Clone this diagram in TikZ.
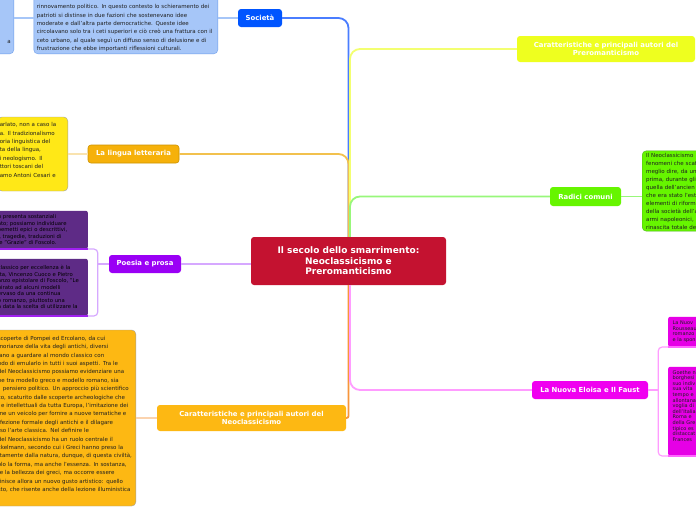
\documentclass[tikz,border=0pt]{standalone}
\usepackage{fontspec}
\setmainfont{DejaVu Sans}
\usepackage{xcolor}
\usetikzlibrary{positioning}

\definecolor{rootred}{HTML}{C41230}
\definecolor{socblue}{HTML}{0055FF}
\definecolor{soclight}{HTML}{A6C6F8}
\definecolor{socedge}{HTML}{6D9EEB}
\definecolor{socline}{HTML}{4A7DFF}
\definecolor{lingorange}{HTML}{F6B10A}
\definecolor{lingedge}{HTML}{CC9200}
\definecolor{lingyellow}{HTML}{FFE817}
\definecolor{lingline}{HTML}{F2C14E}
\definecolor{poeviolet}{HTML}{9A00F5}
\definecolor{poedark}{HTML}{5E2B86}
\definecolor{poebar}{HTML}{A020F0}
\definecolor{poeline}{HTML}{D6A8FF}
\definecolor{neoorange}{HTML}{FDB813}
\definecolor{neoline}{HTML}{F7963A}
\definecolor{neolight}{HTML}{FBD3AE}
\definecolor{preyellow}{HTML}{EEFF1F}
\definecolor{preline}{HTML}{F3FF70}
\definecolor{radgreen}{HTML}{66F500}
\definecolor{radedge}{HTML}{4DB51F}
\definecolor{radline}{HTML}{98F77A}
\definecolor{elomag}{HTML}{F000F0}
\definecolor{elodark}{HTML}{E600E6}
\definecolor{elobar}{HTML}{FF66FF}
\definecolor{eloline}{HTML}{FF9CFF}
\definecolor{notegray}{HTML}{A0A0A0}
\definecolor{notetext}{HTML}{1F1F1F}

\newcommand{\rootfont}{\bfseries\fontsize{9}{10.5}\selectfont}
\newcommand{\lblfont}{\bfseries\fontsize{6.9}{8.7}\selectfont}
\newcommand{\notefont}{\fontsize{5.5}{8.4}\selectfont}
\newcommand{\tinynotefont}{\fontsize{5.3}{6.5}\selectfont}
\newcommand{\micronotefont}{\fontsize{5}{5.6}\selectfont}

\begin{document}
\begin{tikzpicture}[
    x=1pt, y=-1pt,
    root/.style={
        rectangle,
        rounded corners=3pt,
        fill=rootred,
        text=white,
        font=\rootfont,
        align=center,
        inner sep=0pt,
        minimum width=195pt,
        minimum height=48pt
    },
    branch/.style={
        rectangle,
        rounded corners=3pt,
        text=white,
        font=\lblfont,
        align=center,
        inner sep=0pt
    },
    notebox/.style={
        rectangle,
        rounded corners=4pt,
        font=\notefont,
        text=notetext,
        align=left,
        inner ysep=2pt,
        inner xsep=2pt
    },
    link/.style={line width=1.8pt, rounded corners=10pt},
    twig/.style={line width=1.2pt, rounded corners=4pt},
    bar/.style={line width=2.5pt}
]
    \useasboundingbox (0,0) rectangle (696,520);
    \fill[white] (0,0) rectangle (696,520);
    \clip (0,0) rectangle (696,520);

    % central topic
    \node[root] (root) at (348.5,261) {Il secolo dello smarrimento:\\Neoclassicismo e\\Preromanticismo};

    % main branches
    \node[branch, fill=socblue, minimum width=44pt, minimum height=18pt] (soc) at (260,18) {Società};
    \node[branch, fill=lingorange, draw=lingedge, line width=0.6pt, minimum width=91pt, minimum height=18pt] (ling) at (133.5,154) {La lingua letteraria};
    \node[branch, fill=poeviolet, minimum width=72pt, minimum height=18pt] (poe) at (145,264) {Poesia e prosa};
    \node[branch, fill=neoorange, minimum width=189pt, minimum height=26pt] (neo) at (251.5,418) {Caratteristiche e principali autori del\\Neoclassicismo};
    \node[branch, fill=preyellow, minimum width=178pt, minimum height=26pt] (pre) at (606,49) {Caratteristiche e principali autori del\\Preromanticismo};
    \node[branch, fill=radgreen, minimum width=71pt, minimum height=19pt] (rad) at (585.5,196.5) {Radici comuni};
    \node[branch, fill=elomag, minimum width=116pt, minimum height=18pt] (elo) at (590,390) {La Nuova Eloisa e Il Faust};

    % notes
    \node[notebox, fill=soclight, draw=socedge, anchor=south east, align=right, text width=20pt, inner xsep=3pt] (sfar) at (14,54)
        {\mbox{}\\\mbox{}\\\mbox{}\\\mbox{}\\\mbox{}\\\mbox{}\\a\\\mbox{}};
    \node[notebox, fill=soclight, draw=socedge, anchor=south east, text width=178pt, inner xsep=3pt] (sblk) at (218,54)
        {\mbox{}\\\mbox{}\\
         rinnovamento politico. In questo contesto lo schieramento dei\\
         patrioti si distinse in due fazioni che sostenevano idee\\
         moderate e dall'altra parte democratiche. Queste idee\\
         circolavano solo tra i ceti superiori e ciò creò una frattura con il\\
         ceto urbano, al quale seguì un diffuso senso di delusione e di\\
         frustrazione che ebbe importanti riflessioni culturali.};
    \node[notebox, fill=lingyellow, draw=notegray, anchor=east, text width=66pt, minimum height=74pt] (lnote) at (68,154)
        {arlato, non a caso la\\
         a. Il tradizionalismo\\
         oria linguistica del\\
         ta della lingua,\\
         i neologismo. Il\\
         ttori toscani del\\
         amo Antoni Cesari e\\\mbox{}};
    \node[notebox, font=\tinynotefont, text=black, fill=poedark, rounded corners=2pt, anchor=south east, text width=88pt, minimum height=38pt] (pA) at (88,249)
        {n presenta sostanziali\\
         ato; possiamo individuare\\
         oemetti epici o descrittivi,\\
         l, tragedie, traduzioni di\\
         le "Grazie" di Foscolo.};
    \node[notebox, font=\tinynotefont, text=black, fill=poedark, rounded corners=2pt, anchor=south east, text width=88pt, minimum height=57pt] (pB) at (88,316)
        {classico per eccellenza è la\\
         tta, Vincenzo Cuoco e Pietro\\
         anzo epistolare di Foscolo, "Le\\
         pirato ad alcuni modelli\\
         ervaso da una continua\\
         o romanzo, piuttosto una\\
         a data la scelta di utilizzare la};
    \node[notebox, fill=neoorange, draw=notegray, anchor=east, text width=136pt, minimum height=176pt] (nnote) at (136,418)
        {scoperte di Pompei ed Ercolano, da cui\\
         morianze della vita degli antichi, diversi\\
         iano a guardare al mondo classico con\\
         ndo di emularlo in tutti i suoi aspetti. Tra le\\
         del Neoclassicismo possiamo evidenziare una\\
         ne tra modello greco e modello romano, sia\\
         \hspace*{5pt}pensiero politico. Un approccio più scientifico\\
         co, scaturito dalle scoperte archeologiche che\\
         i e intellettuali da tutta Europa, l'imitazione dei\\
         me un veicolo per fornire a nuove tematiche e\\
         rfezione formale degli antichi e il dilagare\\
         rso l'arte classica. Nel definire le\\
         del Neoclassicismo ha un ruolo centrale il\\
         ckelmann, secondo cui i Greci hanno preso la\\
         ttamente dalla natura, dunque, di questa civiltà,\\
         olo la forma, ma anche l'essenza. In sostanza,\\
         re la bellezza dei greci, ma occorre essere\\
         finisce allora un nuovo gusto artistico: quello\\
         sto, che risente anche della lezione illuministica\\\mbox{}};
    \node[notebox, font=\fontsize{5.5}{8}\selectfont, fill=radgreen, draw=radedge, anchor=west, text width=80pt, inner xsep=4pt, minimum height=80pt] (rnote) at (642,191)
        {Il Neoclassicismo\\
         fenomeni che scat\\
         meglio dire, da un\\
         prima, durante gli\\
         quella dell'ancien\\
         che era stato l'esti\\
         elementi di riform\\
         della società dell'a\\
         armi napoleonici,\\
         rinascita totale de};
    \node[notebox, font=\micronotefont, fill=elodark, rounded corners=2pt, anchor=south west, text width=60pt, inner xsep=4.5pt, minimum height=30pt] (mC) at (668,347)
        {La Nuov\\Rousseau\\romanzo\\e la spon};
    \node[notebox, font=\micronotefont, fill=elodark, rounded corners=2pt, anchor=south west, text width=60pt, inner xsep=4.5pt, minimum height=89pt] (mD) at (668,456)
        {Goethe n\\borghesi\\suo indiv\\sua vita\\tempo e\\allontana\\voglia di\\dell'Italia\\Roma e\\della Gre\\tipico es\\distaccat\\Frances\\\mbox{}\\\mbox{}};

    % branch links
    \draw[link, socline] (root.north) |- (soc.east);
    \draw[link, lingline] (root.north) |- (ling.east);
    \draw[link, preline] ([xshift=1.5pt]root.north) |- (pre.west);
    \draw[link, radline] ([xshift=1.5pt]root.north) |- (rad.west);
    \draw[link, poeline] (root.west |- poe.east) -- (poe.east);
    \draw[link, neoline, rounded corners=2pt] (root.south) |- (neo.east);
    \draw[link, eloline] ([xshift=1.5pt]root.south) |- (elo.west);

    % note links
    \draw[twig, soclight] (soc.west) -- (soc.west -| sblk.east);
    \draw[twig, soclight] (soc.west -| sblk.west) -- (soc.west -| sfar.east);
    \draw[twig, lingline!45!white] (ling.west) -- (ling.west -| lnote.east);
    \coordinate[left=11pt of poe.west] (poefork);
    \draw[twig, poeline] (poe.west) -- (poefork);
    \draw[twig, poeline] (pA.south east) -| (poefork) |- (pB.south east);
    \draw[twig, neolight] (neo.west) -- (neo.west -| nnote.east);
    \draw[twig, radline] (rad.east) -- (rad.east -| rnote.west);
    \coordinate[right=10pt of elo.east] (elofork);
    \draw[twig, eloline] (elo.east) -- (elofork);
    \draw[twig, eloline] (mC.south west) -| (elofork) |- (mD.south west);

    % underlines
    \draw[bar, poebar] (pA.south west) -- (pA.south east);
    \draw[bar, poebar] (pB.south west) -- (pB.south east);
    \draw[bar, elobar] (mC.south west) -- (mC.south east);
    \draw[bar, elobar] (mD.south west) -- (mD.south east);
\end{tikzpicture}
\end{document}
